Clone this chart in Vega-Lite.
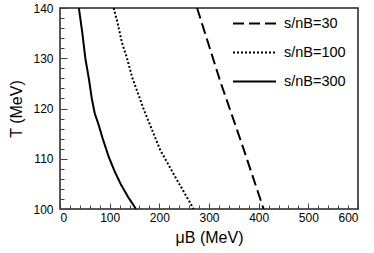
{
  "$schema": "https://vega.github.io/schema/vega-lite/v6.json",
  "width": 298,
  "height": 201,
  "autosize": {"type": "none"},
  "padding": {"left": 60, "top": 8, "right": 16, "bottom": 44},
  "config": {
    "font": "Liberation Sans",
    "view": {"stroke": "#222", "strokeWidth": 1.5},
    "axis": {"grid": false, "domain": false, "labelFontSize": 12, "labelColor": "#000", "titleFontSize": 16, "titleFontWeight": "normal", "titleColor": "#000"}
  },
  "data": {
    "values": [
      {"series": "s/nB=30", "mu": 276, "T": 140},
      {"series": "s/nB=30", "mu": 323, "T": 125.3},
      {"series": "s/nB=30", "mu": 366, "T": 113},
      {"series": "s/nB=30", "mu": 410, "T": 100},
      {"series": "s/nB=100", "mu": 108, "T": 140},
      {"series": "s/nB=100", "mu": 116, "T": 137},
      {"series": "s/nB=100", "mu": 125, "T": 133},
      {"series": "s/nB=100", "mu": 135, "T": 130},
      {"series": "s/nB=100", "mu": 145, "T": 126.3},
      {"series": "s/nB=100", "mu": 157, "T": 123},
      {"series": "s/nB=100", "mu": 169, "T": 119.7},
      {"series": "s/nB=100", "mu": 202, "T": 111.7},
      {"series": "s/nB=100", "mu": 236, "T": 105.7},
      {"series": "s/nB=100", "mu": 269, "T": 100},
      {"series": "s/nB=300", "mu": 38, "T": 140},
      {"series": "s/nB=300", "mu": 45, "T": 135},
      {"series": "s/nB=300", "mu": 51, "T": 130},
      {"series": "s/nB=300", "mu": 58, "T": 126},
      {"series": "s/nB=300", "mu": 64, "T": 122},
      {"series": "s/nB=300", "mu": 70, "T": 119},
      {"series": "s/nB=300", "mu": 77, "T": 117},
      {"series": "s/nB=300", "mu": 86, "T": 114},
      {"series": "s/nB=300", "mu": 98, "T": 110.4},
      {"series": "s/nB=300", "mu": 110, "T": 107.5},
      {"series": "s/nB=300", "mu": 122, "T": 105},
      {"series": "s/nB=300", "mu": 137, "T": 102.4},
      {"series": "s/nB=300", "mu": 153, "T": 100}
    ]
  },
  "layer": [
    {
      "mark": {"type": "line", "color": "black", "strokeWidth": 2, "clip": true},
      "encoding": {
        "x": {"field": "mu", "type": "quantitative", "scale": {"domain": [0, 600], "nice": false},
          "axis": {"values": [0, 100, 200, 300, 400, 500, 600], "tickColor": "#444", "tickWidth": 1, "tickSize": -6, "labelPadding": 9, "title": "μB (MeV)", "titlePadding": 6}},
        "y": {"field": "T", "type": "quantitative", "scale": {"domain": [100, 140], "nice": false, "zero": false},
          "axis": {"values": [100, 110, 120, 130, 140], "tickColor": "#444", "tickWidth": 1, "tickSize": -7, "labelPadding": 14, "title": "T (MeV)", "titlePadding": 8}},
        "strokeDash": {"field": "series", "type": "nominal",
          "scale": {"domain": ["s/nB=30", "s/nB=100", "s/nB=300"], "range": [[11, 5], [2, 2], [1, 0]]},
          "legend": {"orient": "none", "legendX": 172, "legendY": -7, "title": null, "symbolType": "stroke", "symbolSize": 1849, "symbolStrokeColor": "black", "symbolStrokeWidth": 2, "labelFontSize": 14.5, "labelColor": "#000", "padding": 0, "rowPadding": -6.5, "labelOffset": 7}}
      }
    },
    {
      "mark": {"type": "line", "opacity": 0},
      "encoding": {
        "x": {"field": "mu", "type": "quantitative",
          "axis": {"orient": "bottom", "tickColor": "#444", "tickWidth": 1, "tickSize": -4, "values": [20, 40, 60, 80, 120, 140, 160, 180, 220, 240, 260, 280, 320, 340, 360, 380, 420, 440, 460, 480, 520, 540, 560, 580], "labels": false, "title": null}},
        "y": {"field": "T", "type": "quantitative",
          "axis": {"orient": "left", "tickColor": "#444", "tickWidth": 1, "tickSize": -4, "values": [102, 104, 106, 108, 112, 114, 116, 118, 122, 124, 126, 128, 132, 134, 136, 138], "labels": false, "title": null}},
        "detail": {"field": "series"}
      }
    }
  ],
  "resolve": {"axis": {"x": "independent", "y": "independent"}}
}
